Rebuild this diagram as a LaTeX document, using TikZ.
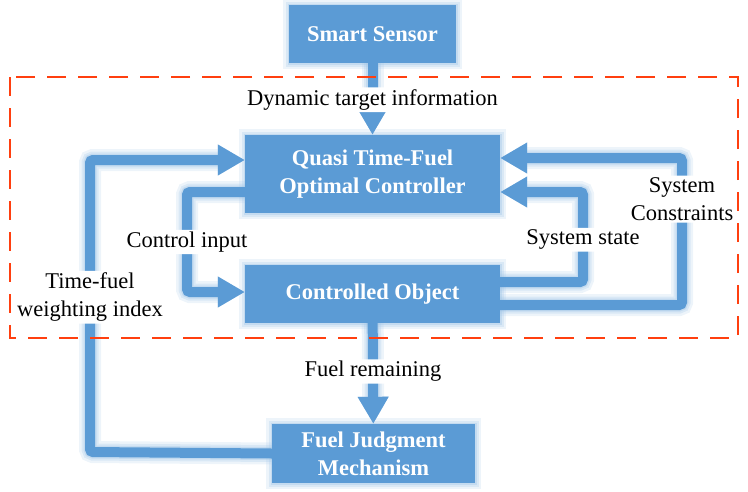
\documentclass[tikz,border=0pt]{standalone}
\usepackage{fontspec}
\setmainfont{Liberation Serif}
\usetikzlibrary{arrows.meta}

\definecolor{boxblue}{HTML}{5B9BD5}
\definecolor{glowblue}{HTML}{9DC3E6}
\definecolor{frame}{HTML}{FF3F0F}

\tikzset{
  halo/.style={preaction={draw=glowblue,line width=#1+12pt,opacity=0.18},
               preaction={draw=glowblue,line width=#1+7pt,opacity=0.25},
               preaction={draw=glowblue,line width=#1+3pt,opacity=0.35}},
  block/.style={fill=boxblue,text=white,font=\bfseries\fontsize{22.5}{28}\selectfont,
                align=center,inner sep=0pt,halo=0pt},
  flow/.style={draw=boxblue,line width=10pt,rounded corners=3pt,
               -{Triangle[width=29pt,length=27pt]},halo=10pt},
  lbl/.style={fill=white,inner sep=2pt,align=center,font=\fontsize{22.5}{28}\selectfont}
}

\begin{document}
\begin{tikzpicture}[x=1pt,y=-1pt]
    \useasboundingbox (0,0) rectangle (748,491);
    % blocks
    \node[block,minimum width=167pt,minimum height=58pt] (sensor) at (372.5,34) {Smart Sensor};
    \node[block,minimum width=255pt,minimum height=78pt] (ctrl) at (372.5,174) {Quasi Time-Fuel\\Optimal Controller};
    \node[block,minimum width=255pt,minimum height=58pt] (obj) at (372.5,294) {Controlled Object};
    \node[block,minimum width=203pt,minimum height=59pt] (judge) at (373.5,453.5) {Fuel Judgment\\Mechanism};

    % signals
    \draw[flow] (sensor) -- node[lbl,pos=0.51] {Dynamic target information} (ctrl);
    \draw[flow] (obj) -- node[lbl,pos=0.48] {Fuel remaining} (judge);
    \draw[flow] (judge.west) -- (90,452) -- node[lbl,pos=0.53] {Time-fuel\\weighting index} (90,160) -- (ctrl.west |- 0,160);
    \draw[flow] (ctrl.west |- 0,192) -- (187,192) -- node[lbl] {Control input} (187,292) -- (obj.west |- 0,292);
    \draw[flow] (obj.east |- 0,282) -- (583,282) -- node[lbl,pos=0.47] {System state} (583,192) -- (ctrl.east |- 0,192);
    \draw[flow] (obj.east |- 0,305) -- (682,305) -- node[lbl,pos=0.72] {System\\Constraints} (682,158) -- (ctrl.east |- 0,158);

    % system boundary
    \draw[frame,line width=2.5pt,dash pattern=on 19pt off 12pt] (10,77) rectangle (738,338);
\end{tikzpicture}
\end{document}
